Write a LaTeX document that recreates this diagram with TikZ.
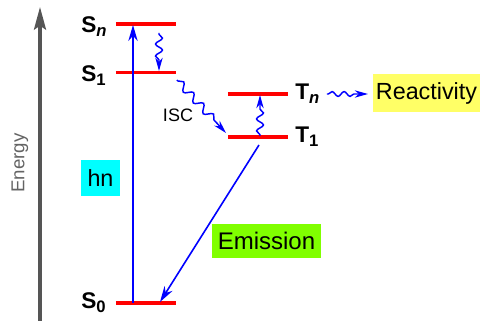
\documentclass[tikz,border=0pt]{standalone}
\usepackage{fontspec}
\setmainfont{Liberation Sans}
\usetikzlibrary{arrows.meta,decorations.pathmorphing}
\definecolor{axisgray}{RGB}{85,85,85}
\definecolor{labgray}{RGB}{100,100,100}
\definecolor{lvred}{RGB}{255,0,0}
\definecolor{arblue}{RGB}{0,0,255}
\definecolor{boxcyan}{RGB}{0,255,255}
\definecolor{boxgreen}{RGB}{128,255,0}
\definecolor{boxyellow}{RGB}{255,255,102}
\newcommand\lvsub[1]{\raisebox{-3pt}{\fontsize{12.5}{14}\selectfont #1}}
\tikzset{
  level/.style={draw=lvred, line width=2.4pt},
  lvlabel/.style={anchor=base west, inner sep=0pt, font=\fontsize{17}{20}\selectfont\bfseries},
  straightarrow/.style={draw=arblue, line width=1.2pt, -{Stealth[length=12pt,width=7pt]}},
  wavyarrow/.style={draw=arblue, line width=1.1pt, -{Stealth[length=10pt,width=5.5pt]},
    decorate, decoration={snake, amplitude=2.6pt, segment length=9pt, pre length=1pt, post length=8pt}},
  labelbox/.style={inner sep=0pt, font=\fontsize{17.5}{20}\selectfont},
}
\begin{document}
\begin{tikzpicture}[x=0.75pt,y=-0.75pt]
\useasboundingbox (0,0) rectangle (480,321);
% energy axis
\coordinate (axB) at (40,321);
\coordinate (axT) at (40,7);
\draw[axisgray, line width=2.4pt, -{Stealth[length=17pt,width=9pt,inset=3pt]}] (axB) -- (axT);
\node[rotate=90, text=labgray, font=\fontsize{14}{16}\selectfont] (energy) at (20,163) {Energy};
% levels
\coordinate (SnL) at (116,24);  \coordinate (SnR) at (176,24);
\coordinate (S1L) at (116,72.5);\coordinate (S1R) at (176,72.5);
\coordinate (S0L) at (116,303); \coordinate (S0R) at (176,303);
\coordinate (TnL) at (228,94);  \coordinate (TnR) at (288,94);
\coordinate (T1L) at (228,137); \coordinate (T1R) at (288,137);
\draw[level] (SnL) -- (SnR);
\draw[level] (S1L) -- (S1R);
\draw[level] (S0L) -- (S0R);
\draw[level] (TnL) -- (TnR);
\draw[level] (T1L) -- (T1R);
% level labels
\node[lvlabel] (Sn) at (81,33) {S\lvsub{\textit{n}}};
\node[lvlabel] (S1) at (81,82) {S\lvsub{1}};
\node[lvlabel] (S0) at (81,309) {S\lvsub{0}};
\node[lvlabel] (Tn) at (295,100) {T\lvsub{\textit{n}}};
\node[lvlabel] (T1) at (295,143) {T\lvsub{1}};
% boxes
\node[labelbox, fill=boxcyan, minimum width=29.25pt, minimum height=27pt] (hn) at (100.5,178) {hn};
\node[labelbox, fill=boxgreen, minimum width=81.75pt, minimum height=25.5pt, font=\fontsize{18}{20}\selectfont] (emis) at (266.5,241) {Emission};
\node[labelbox, fill=boxyellow, minimum width=80.25pt, minimum height=28.5pt] (react) at (426.5,93) {Reactivity};
\node[font=\fontsize{13.5}{16}\selectfont, inner sep=0pt] (isc) at (178,115) {ISC};
% excitation
\coordinate (exS) at (133,303);
\coordinate (exE) at (133,25);
\draw[straightarrow] (exS) -- (exE);
% emission
\coordinate (emS) at (259,145);
\coordinate (emE) at (160,302);
\draw[straightarrow] (emS) -- (emE);
% internal conversion Sn -> S1
\coordinate (icS) at (159,33);
\coordinate (icE) at (159,71);
\draw[wavyarrow] (icS) -- (icE);
% ISC
\coordinate (iscS) at (177,80);
\coordinate (iscE) at (226,133);
\draw[wavyarrow, decoration={segment length=11pt, amplitude=2.8pt}] (iscS) -- (iscE);
% T1 -> Tn
\coordinate (ttS) at (260,136);
\coordinate (ttE) at (260,95);
\draw[wavyarrow] (ttS) -- (ttE);
% Tn -> Reactivity
\coordinate (trS) at (327,94);
\coordinate (trE) at (368,94);
\draw[wavyarrow, decoration={amplitude=1.8pt, segment length=9pt}] (trS) -- (trE);
\end{tikzpicture}
\end{document}
